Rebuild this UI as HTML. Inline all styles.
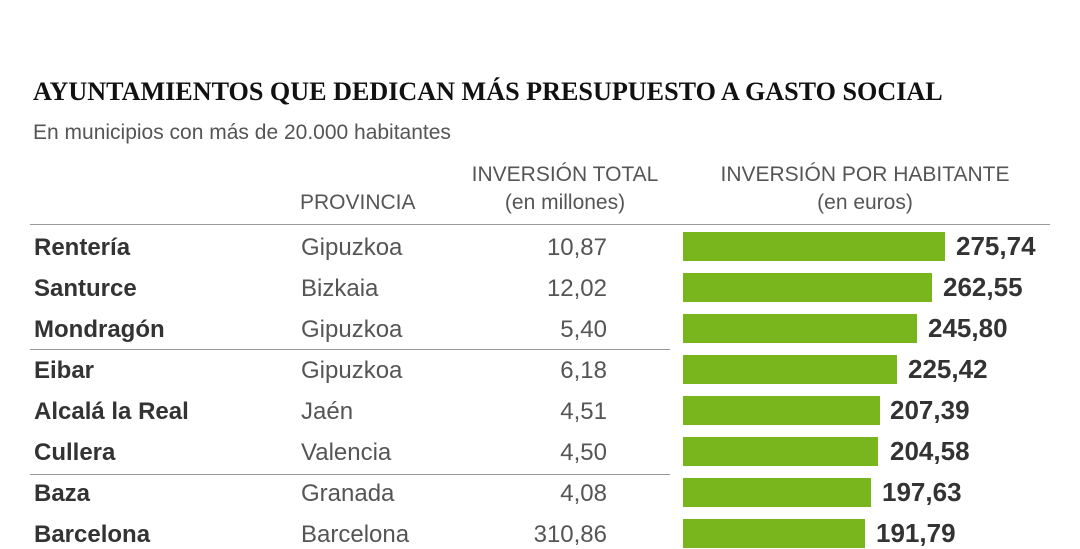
<!DOCTYPE html>
<html><head><meta charset="utf-8"><style>
body{margin:0;width:1080px;height:540px;background:#fff;overflow:hidden;position:relative;font-family:"Liberation Sans",sans-serif;color:#333}
div{position:absolute;white-space:nowrap}
.t{left:33px;top:77px;font-family:"Liberation Serif",serif;font-weight:bold;font-size:26px;color:#111;transform:scaleX(1.005);transform-origin:left}
.s{left:33px;top:121px;font-size:21px;color:#555}
.h{font-size:21px;color:#555;text-align:center;line-height:28px}
.n{left:34px;font-size:24px;font-weight:bold;color:#333}
.p{left:301px;font-size:24px;color:#555}
.v{right:473px;font-size:24px;color:#555;text-align:right}
.b{left:683px;height:29px;background:#79b51c}
.l{font-size:26px;font-weight:bold;color:#333;margin-top:-1px}
.ln{height:1px;background:#999}
.r{margin-top:2px}
</style></head><body>
<div class="t">AYUNTAMIENTOS QUE DEDICAN MÁS PRESUPUESTO A GASTO SOCIAL</div>
<div class="s">En municipios con más de 20.000 habitantes</div>
<div class="h" style="left:300px;top:189px">PROVINCIA</div>
<div class="h" style="left:460px;top:161px;width:210px">INVERSIÓN TOTAL<br>(en millones)</div>
<div class="h" style="left:700px;top:161px;width:330px">INVERSIÓN POR HABITANTE<br>(en euros)</div>
<div class="ln" style="left:30px;top:224px;width:1020px"></div>
<div class="ln" style="left:30px;top:349px;width:640px"></div>
<div class="ln" style="left:30px;top:474px;width:640px"></div>

<div class="n r" style="top:232px">Rentería</div><div class="p r" style="top:232px">Gipuzkoa</div><div class="v r" style="top:232px">10,87</div><div class="b" style="top:232px;width:262px"></div><div class="l" style="left:956px;top:232px">275,74</div>
<div class="n r" style="top:273px">Santurce</div><div class="p r" style="top:273px">Bizkaia</div><div class="v r" style="top:273px">12,02</div><div class="b" style="top:273px;width:249px"></div><div class="l" style="left:943px;top:273px">262,55</div>
<div class="n r" style="top:314px">Mondragón</div><div class="p r" style="top:314px">Gipuzkoa</div><div class="v r" style="top:314px">5,40</div><div class="b" style="top:314px;width:234px"></div><div class="l" style="left:928px;top:314px">245,80</div>
<div class="n r" style="top:355px">Eibar</div><div class="p r" style="top:355px">Gipuzkoa</div><div class="v r" style="top:355px">6,18</div><div class="b" style="top:355px;width:214px"></div><div class="l" style="left:908px;top:355px">225,42</div>
<div class="n r" style="top:396px">Alcalá la Real</div><div class="p r" style="top:396px">Jaén</div><div class="v r" style="top:396px">4,51</div><div class="b" style="top:396px;width:197px"></div><div class="l" style="left:890px;top:396px">207,39</div>
<div class="n r" style="top:437px">Cullera</div><div class="p r" style="top:437px">Valencia</div><div class="v r" style="top:437px">4,50</div><div class="b" style="top:437px;width:195px"></div><div class="l" style="left:890px;top:437px">204,58</div>
<div class="n r" style="top:478px">Baza</div><div class="p r" style="top:478px">Granada</div><div class="v r" style="top:478px">4,08</div><div class="b" style="top:478px;width:188px"></div><div class="l" style="left:882px;top:478px">197,63</div>
<div class="n r" style="top:519px">Barcelona</div><div class="p r" style="top:519px">Barcelona</div><div class="v r" style="top:519px">310,86</div><div class="b" style="top:519px;width:182px"></div><div class="l" style="left:876px;top:519px">191,79</div>
</body></html>
